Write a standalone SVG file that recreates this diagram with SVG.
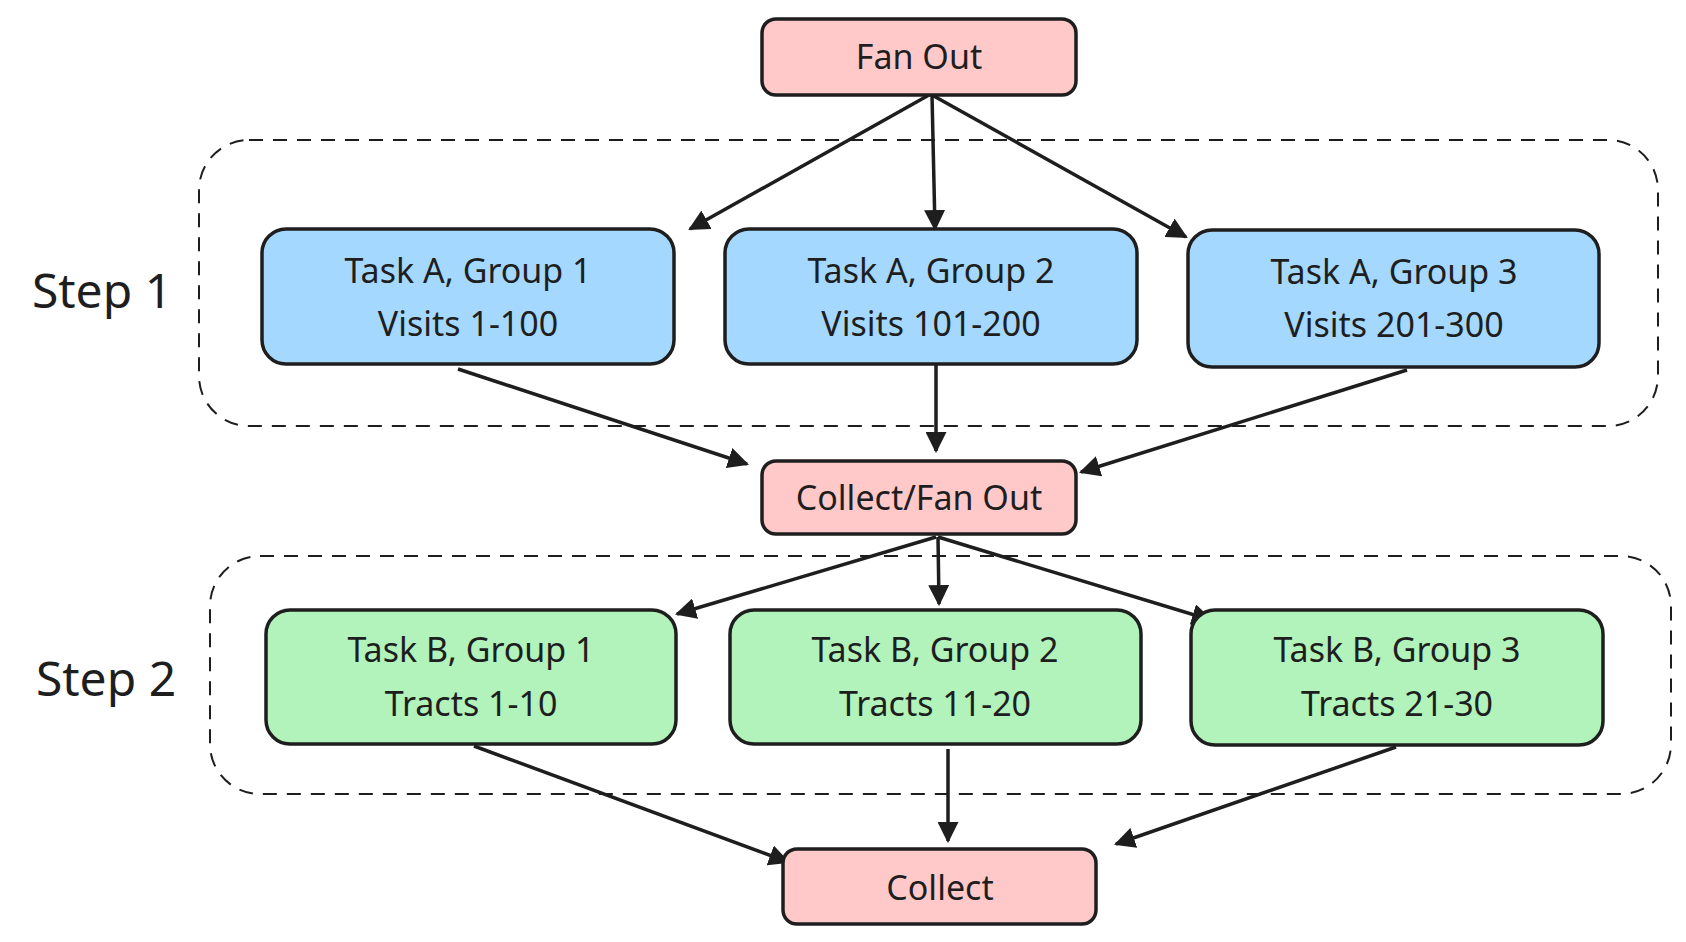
<svg xmlns="http://www.w3.org/2000/svg" width="1686" height="942" viewBox="0 0 1686 942">
<style>
.n{stroke:#1e1e1e;stroke-width:3.5}
.p{fill:#ffc9c9}.b{fill:#a5d8ff}.g{fill:#b2f2bb}
text{font-family:"Noto Sans","Liberation Sans",sans-serif;fill:#1e1e1e;text-anchor:middle;dominant-baseline:central}
.t{font-size:34px}.s{font-size:48px}
.d{fill:none;stroke:#1e1e1e;stroke-width:2;stroke-dasharray:14 10}
.c line{stroke:#1e1e1e;stroke-width:3.5}
</style>
<defs><marker id="a" viewBox="0 0 10 10" refX="9" refY="5" markerWidth="7" markerHeight="7" markerUnits="userSpaceOnUse" orient="auto"><path d="M0,0L10,5L0,10z" fill="#1e1e1e" transform="scale(1)"/></marker>
<marker id="h" viewBox="0 0 10 10" refX="9" refY="5" markerWidth="6" markerHeight="6" orient="auto"><path d="M0,0L10,5L0,10z" fill="#1e1e1e"/></marker></defs>
<rect width="1686" height="942" fill="#fff"/>
<g id="step1"><rect class="d" x="199" y="140" width="1459" height="286" rx="50"/><text class="s" x="102" y="289">Step 1</text></g>
<g id="step2"><rect class="d" x="210" y="556" width="1461" height="238" rx="50"/><text class="s" x="106" y="677">Step 2</text></g>
<g class="c">
<line x1="929" y1="95" x2="690" y2="229" marker-end="url(#h)"/>
<line x1="932" y1="95" x2="935" y2="229" marker-end="url(#h)"/>
<line x1="932" y1="95" x2="1186" y2="237" marker-end="url(#h)"/>
<line x1="458" y1="369" x2="747" y2="464" marker-end="url(#h)"/>
<line x1="936" y1="363" x2="936" y2="451" marker-end="url(#h)"/>
<line x1="1407" y1="370" x2="1081" y2="472" marker-end="url(#h)"/>
<line x1="936" y1="537" x2="677" y2="614" marker-end="url(#h)"/>
<line x1="938" y1="537" x2="939" y2="604" marker-end="url(#h)"/>
<line x1="938" y1="537" x2="1211" y2="620" marker-end="url(#h)"/>
<line x1="474" y1="746" x2="788" y2="862" marker-end="url(#h)"/>
<line x1="948" y1="749" x2="948" y2="841" marker-end="url(#h)"/>
<line x1="1396" y1="747" x2="1116" y2="844" marker-end="url(#h)"/>
</g>
<g id="fanout"><rect class="n p" x="762" y="19" width="314" height="76" rx="14"/><text class="t" x="919" y="56">Fan Out</text></g>
<g id="a1"><rect class="n b" x="262" y="229" width="412" height="135" rx="24"/><text class="t" x="468" y="270">Task A, Group 1</text><text class="t" x="468" y="323">Visits 1-100</text></g>
<g id="a2"><rect class="n b" x="725" y="229" width="412" height="135" rx="24"/><text class="t" x="931" y="270">Task A, Group 2</text><text class="t" x="931" y="323">Visits 101-200</text></g>
<g id="a3"><rect class="n b" x="1188" y="230" width="411" height="137" rx="24"/><text class="t" x="1394" y="271">Task A, Group 3</text><text class="t" x="1394" y="324">Visits 201-300</text></g>
<g id="collectfan"><rect class="n p" x="762" y="461" width="314" height="73" rx="14"/><text class="t" x="919" y="497">Collect/Fan Out</text></g>
<g id="b1"><rect class="n g" x="266" y="610" width="410" height="134" rx="24"/><text class="t" x="471" y="649">Task B, Group 1</text><text class="t" x="471" y="703">Tracts 1-10</text></g>
<g id="b2"><rect class="n g" x="730" y="610" width="411" height="134" rx="24"/><text class="t" x="935" y="649">Task B, Group 2</text><text class="t" x="935" y="703">Tracts 11-20</text></g>
<g id="b3"><rect class="n g" x="1191" y="610" width="412" height="135" rx="24"/><text class="t" x="1397" y="649">Task B, Group 3</text><text class="t" x="1397" y="703">Tracts 21-30</text></g>
<g id="collect"><rect class="n p" x="783" y="849" width="313" height="75" rx="14"/><text class="t" x="940" y="887">Collect</text></g>
</svg>
